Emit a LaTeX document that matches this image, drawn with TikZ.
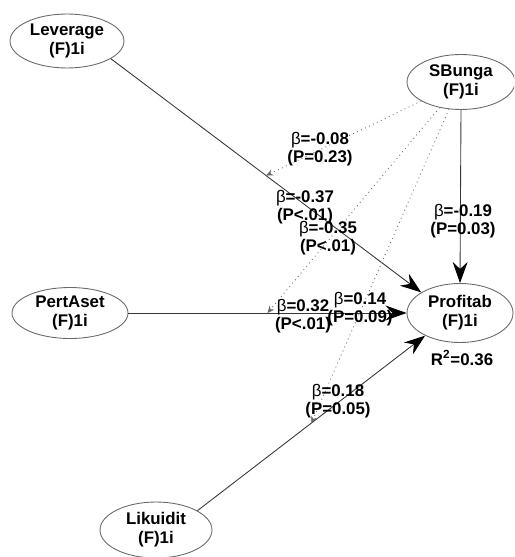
\documentclass[tikz,border=0pt]{standalone}
\usepackage{fontspec}
\setmainfont{Liberation Sans}
\usetikzlibrary{arrows.meta,shapes.geometric}
\definecolor{GarisGelap}{RGB}{55,55,55}
\definecolor{GarisAbu}{RGB}{105,105,105}
\tikzset{
  variabel/.style={ellipse, draw=GarisAbu, line width=0.5pt, align=center,
                   font=\fontsize{9.6}{10.8}\selectfont\bfseries, inner sep=0pt},
  panah/.style={-{Stealth[length=12pt, width=8.5pt, inset=4pt, color=black]},
                line width=0.5pt, GarisGelap},
  panahmod/.style={-{Stealth[length=4pt, width=3.5pt]}, dotted, line width=0.5pt, GarisAbu},
  koef/.style={align=center, font=\fontsize{9.6}{10.2}\selectfont\bfseries, inner sep=0pt},
}

\begin{document}
\begin{tikzpicture}[x=0.02cm, y=-0.02cm]
  \clip (0,0) rectangle (514,557);

  % variabel laten
  \node[variabel, minimum width=2.28cm, minimum height=1.08cm] (lev) at (67,41) {Leverage\\(F)1i};
  \node[variabel, minimum width=2.16cm, minimum height=1.10cm] (sb) at (461,82) {SBunga\\(F)1i};
  \node[variabel, minimum width=2.32cm, minimum height=1.02cm] (pert) at (70,313) {PertAset\\(F)1i};
  \node[variabel, minimum width=2.12cm, minimum height=1.18cm] (prof) at (460,313) {Profitab\\(F)1i};
  \node[variabel, minimum width=2.24cm, minimum height=1.12cm] (lik) at (156,530) {Likuidit\\(F)1i};

  % jalur langsung ke Profitab
  \draw[panah] (lev.338) -- coordinate[pos=0.5] (mlev) (prof.152);
  \draw[panah] (sb.south) -- (prof.north);
  \draw[panah] (pert) -- coordinate[pos=0.5] (mpert) (prof);
  \draw[panah] (lik.25) -- coordinate[pos=0.5] (mlik) (prof.213);

  % efek moderasi SBunga (garis titik)
  \draw[panahmod] (sb) -- (mlev);
  \draw[panahmod] (sb) -- (mpert);
  \draw[panahmod] (sb) -- (mlik);

  % koefisien jalur
  \node[koef] (kmlev) at (320,149) {{\mdseries β}=-0.08\\(P=0.23)};
  \node[koef] (klev) at (305,207) {{\mdseries β}=-0.37\\(P<.01)};
  \node[koef] (kmpert) at (328,238) {{\mdseries β}=-0.35\\(P<.01)};
  \node[koef] (ksb) at (463,221) {{\mdseries β}=-0.19\\(P=0.03)};
  \node[koef] (kpert) at (303,316) {{\mdseries β}=0.32\\(P<.01)};
  \node[koef] (kmlik) at (360,309) {{\mdseries β}=0.14\\(P=0.09)};
  \node[koef] (klik) at (338,401) {{\mdseries β}=0.18\\(P=0.05)};
  \node[koef] (rsq) at (462,358) {R\textsuperscript{2}=0.36};
\end{tikzpicture}
\end{document}
